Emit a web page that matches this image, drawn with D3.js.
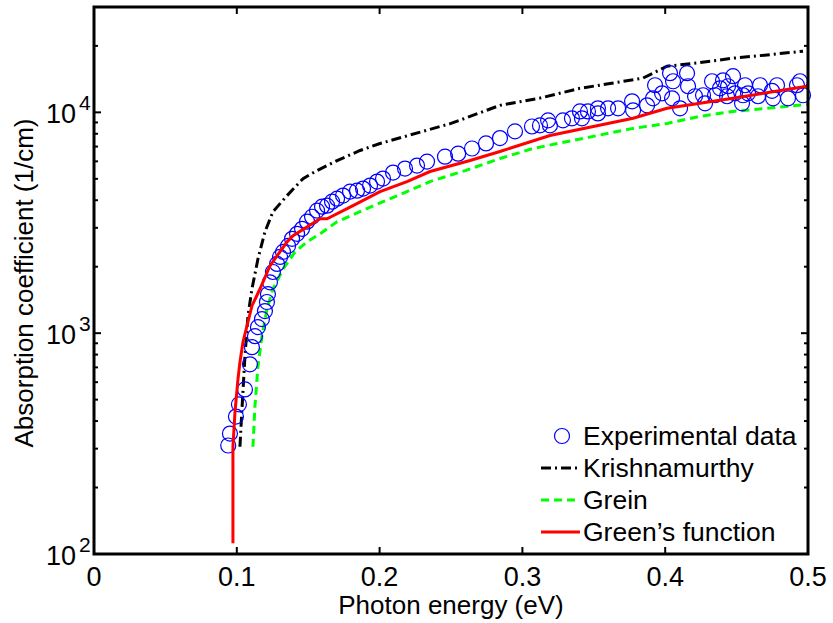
<!DOCTYPE html>
<meta charset="utf-8">
<style>
body { margin: 0; background: #fff; }
text { font-family: "Liberation Sans", Arial, sans-serif; fill: #000; }
</style>
<body>
<script src="https://cdn.jsdelivr.net/npm/d3@7"></script>
<script>

// experimental points (photon energy eV, absorption 1/cm)
var expX = [0.094, 0.0952, 0.0994, 0.1015, 0.1057, 0.1092, 0.1106, 0.1127, 0.1148, 0.1176, 0.1197, 0.1211, 0.1218, 0.1232,
  0.1253, 0.1282, 0.1303, 0.1324, 0.1359, 0.1387, 0.1422, 0.1457, 0.1492, 0.1527, 0.1562, 0.1597, 0.1632, 0.1667,
  0.1702, 0.1744, 0.1793, 0.1842, 0.1884, 0.1933, 0.1982, 0.2024, 0.2094, 0.2178, 0.2262, 0.2332, 0.2458, 0.255,
  0.2647, 0.2745, 0.2843, 0.2948, 0.3067, 0.3123, 0.318, 0.3193, 0.3284, 0.3347, 0.3403, 0.3417, 0.3459, 0.3529,
  0.3529, 0.36, 0.367, 0.3768, 0.3775, 0.3873, 0.3915, 0.3929, 0.3978, 0.4034, 0.4048, 0.4055, 0.4104, 0.4153,
  0.416, 0.4209, 0.4265, 0.4279, 0.4328, 0.4349, 0.4384, 0.4405, 0.4433, 0.444, 0.4475, 0.4489, 0.4538, 0.4545,
  0.4559, 0.458, 0.465, 0.4664, 0.4748, 0.4755, 0.4783, 0.486, 0.4923, 0.4944, 0.4965];
var expY = [310, 351, 419, 476, 556, 723, 864, 969, 1065, 1158, 1259, 1384, 1503, 1700,
  1893, 2059, 2215, 2334, 2485, 2675, 2818, 2970, 3198, 3367, 3589, 3740, 3778, 3940,
  4066, 4198, 4376, 4420, 4518, 4660, 4858, 5012, 5338, 5565, 5740, 5984, 6300, 6500,
  6860, 7230, 7650, 8200, 8630, 8730, 9200, 8730, 9200, 9400, 10100, 9400, 10100, 10430,
  9890, 10430, 10430, 11220, 10210, 10760, 11580, 13270, 12200, 15040, 11580, 13830, 10430, 15040,
  13130, 11830, 11950, 10990, 13830, 11950, 12850, 13970, 11830, 13130, 14580, 12200, 10990, 11950,
  13270, 12200, 11830, 13270, 12520, 11580, 13270, 11580, 13270, 13830, 11950];

// Krishnamurthy model
var krX = [0.1022, 0.1036, 0.1057, 0.1078, 0.1106, 0.1148, 0.1197, 0.1253, 0.1352, 0.1464, 0.1562, 0.1702,
  0.1863, 0.2003, 0.25, 0.2843, 0.3123, 0.3403, 0.3613, 0.3845, 0.4013, 0.4244, 0.4475, 0.4713, 0.4965];
var krY = [306, 451, 786, 1194, 1585, 2168, 2876, 3548, 4198, 5012, 5450, 6050,
  6720, 7230, 8910, 10760, 11600, 12850, 13500, 14300, 16180, 16800, 17590, 18200, 18930];

// Grein model
var grX = [0.1113, 0.1127, 0.1148, 0.1176, 0.1211, 0.1253, 0.1324, 0.1408, 0.1492, 0.1583, 0.1702, 0.1863,
  0.2024, 0.2192, 0.2353, 0.26, 0.2843, 0.3074, 0.3424, 0.3775, 0.4013, 0.4244, 0.4475, 0.4713, 0.4993];
var grY = [306, 466, 708, 969, 1285, 1585, 1954, 2334, 2592, 2818, 3198, 3548,
  3940, 4376, 4858, 5450, 6180, 6860, 7620, 8460, 8910, 9590, 10100, 10430, 10870];

// Green's function model
var gfX = [0.0973, 0.0973, 0.0973, 0.0987, 0.1008, 0.1022, 0.1043, 0.1106, 0.1162, 0.1232, 0.1352, 0.1394,
  0.1583, 0.1632, 0.1814, 0.2003, 0.2192, 0.2353, 0.2633, 0.2843, 0.3193, 0.3775, 0.4013, 0.4475, 0.4993];
var gfY = [112, 176, 306, 437, 618, 738, 910, 1328, 1585, 2017, 2592, 2762,
  3296, 3296, 3778, 4376, 4858, 5395, 6050, 6650, 7860, 9400, 10430, 11580, 13130];

var xTicks = [0, 0.1, 0.2, 0.3, 0.4, 0.5];
var yTicks = [100, 1000, 10000];
var legendNames = ["Experimental data", "Krishnamurthy", "Grein", "Green\u2019s function"];

var width = 833, height = 623;
var plot = {left: 94, right: 808, top: 7, bottom: 554};

var svg = d3.select("body").append("svg")
    .attr("width", width)
    .attr("height", height);

var x = d3.scaleLinear().domain([0, 0.5]).range([plot.left, plot.right]);
var y = d3.scaleLog().domain([100, 30000]).range([plot.bottom, plot.top]);

function zip(a, b) { return a.map(function(v, i) { return [v, b[i]]; }); }

var line = d3.line()
    .x(function(d) { return x(d[0]); })
    .y(function(d) { return y(d[1]); });

// minor ticks for log axis
var minor = [];
[100, 1000, 10000].forEach(function(dec) {
  for (var k = 2; k <= 9; k++) if (dec * k <= 30000) minor.push(dec * k);
});

var ticks = svg.append("g").attr("stroke", "#000").attr("stroke-width", 2);
xTicks.forEach(function(t) {
  ticks.append("line").attr("x1", x(t)).attr("x2", x(t)).attr("y1", plot.bottom).attr("y2", plot.bottom - 7);
  ticks.append("line").attr("x1", x(t)).attr("x2", x(t)).attr("y1", plot.top).attr("y2", plot.top + 7);
});
yTicks.forEach(function(t) {
  ticks.append("line").attr("x1", plot.left).attr("x2", plot.left + 7).attr("y1", y(t)).attr("y2", y(t));
  ticks.append("line").attr("x1", plot.right).attr("x2", plot.right - 7).attr("y1", y(t)).attr("y2", y(t));
});
minor.forEach(function(t) {
  ticks.append("line").attr("x1", plot.left).attr("x2", plot.left + 4).attr("y1", y(t)).attr("y2", y(t));
  ticks.append("line").attr("x1", plot.right).attr("x2", plot.right - 4).attr("y1", y(t)).attr("y2", y(t));
});

// series
svg.append("path").datum(zip(krX, krY))
    .attr("d", line).attr("fill", "none")
    .attr("stroke", "#000").attr("stroke-width", 3)
    .attr("stroke-dasharray", "10,4,2,4");

svg.append("path").datum(zip(grX, grY))
    .attr("d", line).attr("fill", "none")
    .attr("stroke", "#00ff00").attr("stroke-width", 3)
    .attr("stroke-dasharray", "8,5");

svg.selectAll("circle.exp").data(zip(expX, expY)).enter()
  .append("circle").attr("class", "exp")
    .attr("cx", function(d) { return x(d[0]); })
    .attr("cy", function(d) { return y(d[1]); })
    .attr("r", 7.5)
    .attr("fill", "none").attr("stroke", "#0000ff").attr("stroke-width", 1.2);

svg.append("path").datum(zip(gfX, gfY))
    .attr("d", line).attr("fill", "none")
    .attr("stroke", "#ff0000").attr("stroke-width", 3);

// frame
svg.append("rect")
    .attr("x", plot.left).attr("y", plot.top)
    .attr("width", plot.right - plot.left).attr("height", plot.bottom - plot.top)
    .attr("fill", "none").attr("stroke", "#000").attr("stroke-width", 3);

// tick labels
svg.append("g").selectAll("text").data(xTicks).enter().append("text")
    .attr("x", function(d) { return x(d); })
    .attr("y", plot.bottom + 32)
    .attr("text-anchor", "middle")
    .attr("font-size", 27)
    .text(function(d) { return d; });

svg.append("g").selectAll("text").data(yTicks).enter().append("text")
    .attr("x", 76)
    .attr("y", function(d) { return y(d) + 11; })
    .attr("text-anchor", "end")
    .attr("font-size", 27)
    .text("10");
svg.append("g").selectAll("text").data(yTicks).enter().append("text")
    .attr("x", 79)
    .attr("y", function(d) { return y(d) - 2; })
    .attr("font-size", 21)
    .text(function(d) { return Math.round(Math.log10(d)); });

// axis titles
svg.append("text")
    .attr("x", 451)
    .attr("y", 614)
    .attr("text-anchor", "middle")
    .attr("font-size", 26)
    .text("Photon energy (eV)");

svg.append("text")
    .attr("transform", "translate(33,283) rotate(-90)")
    .attr("text-anchor", "middle")
    .attr("font-size", 26)
    .text("Absorption coefficient (1/cm)");

// legend
var lg = svg.append("g");
var ly0 = 436, lstep = 32;
var legendStyles = [null, {c: "#000", d: "10,4,2,4"}, {c: "#00ff00", d: "8,5"}, {c: "#ff0000", d: null}];
legendNames.forEach(function(name, i) {
  var yy = ly0 + i * lstep;
  if (i === 0) {
    lg.append("circle").attr("cx", 562).attr("cy", yy).attr("r", 7.5)
      .attr("fill", "none").attr("stroke", "#0000ff").attr("stroke-width", 1.2);
  } else {
    var st = legendStyles[i];
    lg.append("line").attr("x1", 541).attr("x2", 580).attr("y1", yy).attr("y2", yy)
      .attr("stroke", st.c).attr("stroke-width", 3)
      .attr("stroke-dasharray", st.d);
  }
  lg.append("text").attr("x", 583).attr("y", yy + 9)
    .attr("font-size", 26.5)
    .text(name);
});

</script>
</body>
